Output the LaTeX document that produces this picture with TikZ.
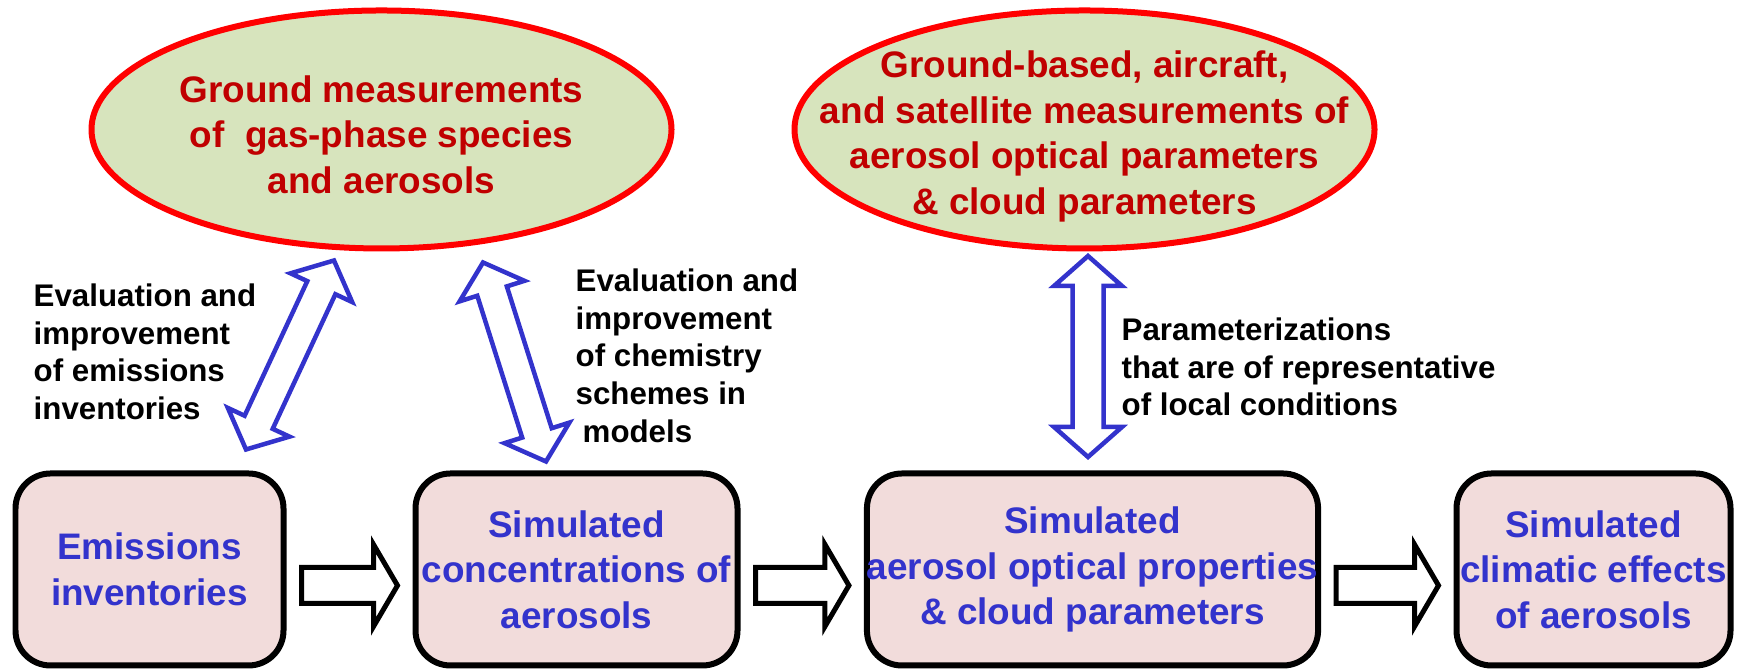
\documentclass[tikz,border=0pt]{standalone}
\usepackage{fontspec}
\setmainfont{Liberation Sans}
\usetikzlibrary{shapes.geometric,calc}

\definecolor{boxfill}{HTML}{F2DCDB}
\definecolor{ellfill}{HTML}{D7E4BD}
\definecolor{boxblue}{HTML}{3333CC}
\definecolor{measred}{HTML}{C00000}

\tikzset{
  box/.style={draw=black, line width=0.06cm, rounded corners=0.35cm, fill=boxfill,
    text=boxblue, font=\fontsize{10.5}{12.95}\selectfont\bfseries, align=center,
    inner sep=0pt, minimum height=1.92cm},
  meas/.style={ellipse, draw=red, fill=ellfill, line width=0.06cm,
    minimum width=5.8cm, minimum height=2.38cm, inner sep=0pt},
  meastext/.style={text=measred, font=\fontsize{10.5}{12.95}\selectfont\bfseries,
    align=center, inner sep=0pt},
  note/.style={font=\fontsize{8.9}{10.73}\selectfont\bfseries, align=left,
    inner sep=0pt, anchor=north west},
  twoway/.style={draw=boxblue, fill=white, line width=0.045cm},
  oneway/.style={draw=black, fill=white, line width=0.05cm}
}

% hollow arrow, heads at both ends
\newcommand{\twowayarrow}[2]{%
  \coordinate (ha) at ($(#1)!0.30cm!(#2)$);
  \coordinate (hb) at ($(#2)!0.30cm!(#1)$);
  \draw[twoway] (#1) -- ($(ha)!0.34cm!90:(#2)$) -- ($(ha)!0.155cm!90:(#2)$)
    -- ($(hb)!0.155cm!-90:(#1)$) -- ($(hb)!0.34cm!-90:(#1)$) -- (#2)
    -- ($(hb)!0.34cm!90:(#1)$) -- ($(hb)!0.155cm!90:(#1)$)
    -- ($(ha)!0.155cm!-90:(#2)$) -- ($(ha)!0.34cm!-90:(#2)$) -- cycle;}

% hollow arrow, head at the second end
\newcommand{\blockarrow}[2]{%
  \coordinate (hb) at ($(#2)!0.24cm!(#1)$);
  \draw[oneway] ($(#1)!0.18cm!90:(#2)$) -- ($(hb)!0.18cm!-90:(#1)$)
    -- ($(hb)!0.41cm!-90:(#1)$) -- (#2) -- ($(hb)!0.41cm!90:(#1)$)
    -- ($(hb)!0.18cm!90:(#1)$) -- ($(#1)!0.18cm!-90:(#2)$) -- cycle;}

\begin{document}
\begin{tikzpicture}
  % Frame
  \useasboundingbox (0,0) rectangle (17.41,6.71);

  % Measurements
  \node[meas] (gm) at (3.815,5.415) {};
  \node[meastext] (gmt) at ([yshift=-0.05cm]gm.center)
    {Ground measurements\\of\ \ gas-phase species\\and aerosols};
  \node[meas] (om) at (10.845,5.415) {};
  \node[meastext] (omt) at ([yshift=-0.07cm]om.center)
    {Ground-based, aircraft,\\and satellite measurements of\\aerosol optical parameters\\\& cloud parameters};

  % Model chain
  \node[box, minimum width=2.68cm] (emis) at (1.495,1.015) {Emissions\\inventories};
  \node[box, minimum width=3.22cm] (conc) at (5.765,1.015) {Simulated\\concentrations of\\aerosols};
  \node[box, minimum width=4.50cm] (optic) at (10.925,1.015) {Simulated\\aerosol optical properties\\\& cloud parameters};
  \node[box, minimum width=2.74cm] (clim) at (15.935,1.015) {Simulated\\climatic effects\\of aerosols};

  % Flow arrows
  \foreach \p/\q in {emis/conc, conc/optic, optic/clim}{
    \coordinate (\p s) at ([shift={(0.15,-0.16)}]\p.east);
    \coordinate (\q e) at ([shift={(-0.15,-0.16)}]\q.west);
    \blockarrow{\p s}{\q e}
  }

  % Evaluation arrows
  \coordinate (gmA) at ([shift={(-0.475,-0.09)}]gm.south);
  \coordinate (emisA) at ([shift={(-0.405,0.21)}]emis.north east);
  \coordinate (gmB) at ([shift={(1.015,-0.11)}]gm.south);
  \coordinate (concB) at ([shift={(-0.305,0.09)}]conc.north);
  \coordinate (omC) at ([shift={(0.035,-0.045)}]om.south);
  \coordinate (opticC) at ([shift={(-0.045,0.135)}]optic.north);
  \twowayarrow{gmA}{emisA}
  \twowayarrow{gmB}{concB}
  \twowayarrow{omC}{opticC}

  % Labels
  \node[note] (emisnote) at (0.33,3.88)
    {Evaluation and\\improvement\\of emissions\\inventories};
  \node[note] (chemnote) at (5.75,4.03)
    {Evaluation and\\improvement\\of chemistry\\schemes in\\\hspace*{0.07cm}models};
  \node[note] (paranote) at (11.21,3.54)
    {Parameterizations\\that are of representative\\of local conditions};
\end{tikzpicture}
\end{document}
